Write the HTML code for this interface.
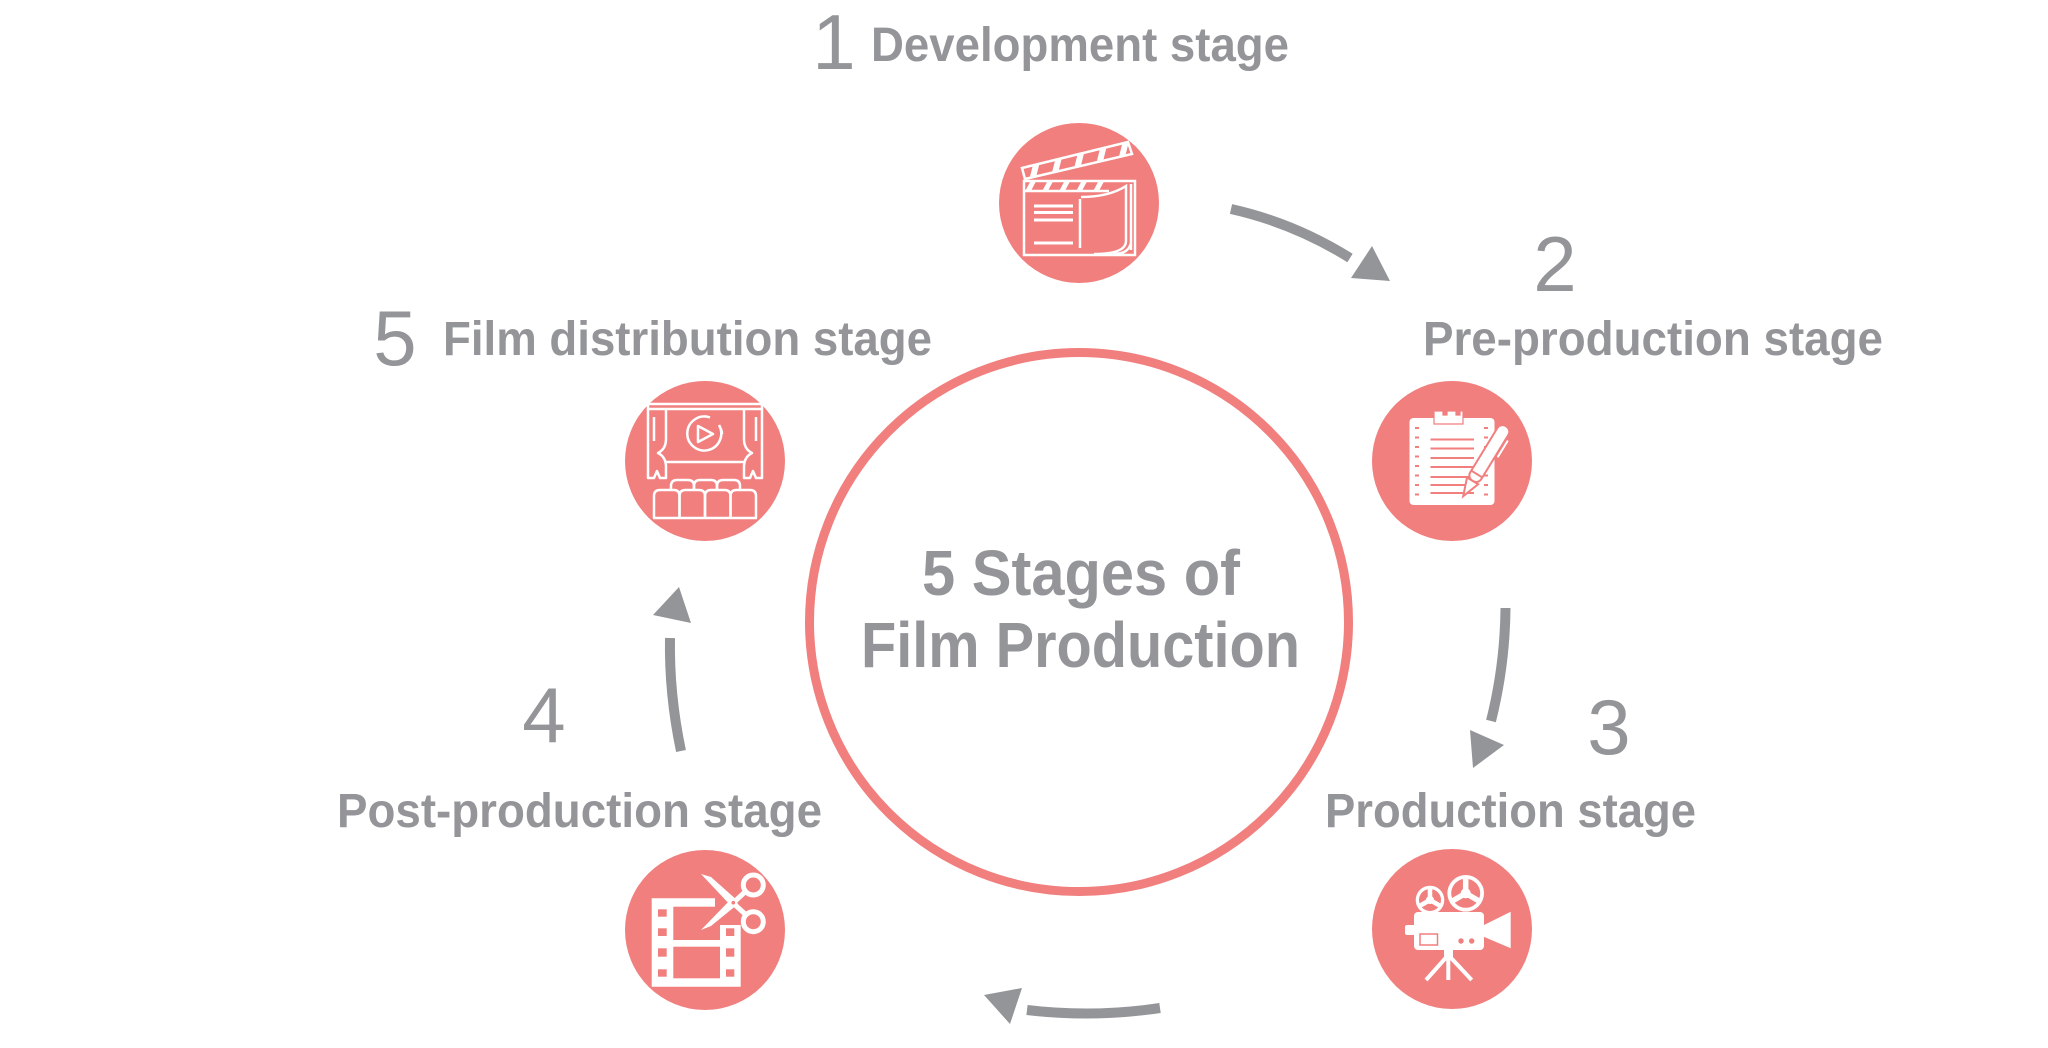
<!DOCTYPE html>
<html><head><meta charset="utf-8"><style>
html,body{margin:0;padding:0;background:#fff;}
svg{display:block;}
text{font-family:"Liberation Sans",sans-serif;fill:#939598;}
</style></head><body>
<svg width="2048" height="1048" viewBox="0 0 2048 1048" xmlns="http://www.w3.org/2000/svg">
<rect width="2048" height="1048" fill="#fff"/>
<defs>
<clipPath id="stick"><polygon points="-57,-35 49,-61 53,-49 -54,-24"/></clipPath>
<clipPath id="band"><rect x="-55" y="-22" width="111" height="10"/></clipPath>
</defs>

<!-- big circle -->
<circle cx="1079" cy="622" r="269.5" fill="none" stroke="#F07F7E" stroke-width="9"/>
<text x="922" y="595" font-size="64" font-weight="bold" textLength="318" lengthAdjust="spacingAndGlyphs">5 Stages of</text>
<text x="861" y="667" font-size="64" font-weight="bold" textLength="439" lengthAdjust="spacingAndGlyphs">Film Production</text>

<!-- digits -->
<text x="834" y="69" font-size="78" text-anchor="middle">1</text>
<text x="1555" y="291" font-size="78" text-anchor="middle">2</text>
<text x="1609" y="754" font-size="78" text-anchor="middle">3</text>
<text x="544" y="742" font-size="78" text-anchor="middle">4</text>
<text x="395" y="365" font-size="78" text-anchor="middle">5</text>

<!-- labels -->
<text x="871" y="61" font-size="48" font-weight="bold" textLength="418" lengthAdjust="spacingAndGlyphs">Development stage</text>
<text x="1423" y="355" font-size="48" font-weight="bold" textLength="460" lengthAdjust="spacingAndGlyphs">Pre-production stage</text>
<text x="1325" y="827" font-size="48" font-weight="bold" textLength="371" lengthAdjust="spacingAndGlyphs">Production stage</text>
<text x="337" y="827" font-size="48" font-weight="bold" textLength="485" lengthAdjust="spacingAndGlyphs">Post-production stage</text>
<text x="443" y="355" font-size="48" font-weight="bold" textLength="489" lengthAdjust="spacingAndGlyphs">Film distribution stage</text>

<!-- arrows -->
<g fill="none" stroke="#939598" stroke-width="10">
<path d="M1231,209 Q1294,223 1350,258"/>
<path d="M1505.5,608 Q1505,665 1491,721"/>
<path d="M1160,1008 Q1093,1018 1027,1010"/>
<path d="M681,751 Q669,694 670,638"/>
</g>
<g fill="#939598">
<polygon points="1351,278 1372,246 1390,281"/>
<polygon points="1470,730 1504,745 1473,768"/>
<polygon points="984,995 1022,988 1010,1024"/>
<polygon points="653,615 679,587 691,623"/>
</g>

<!-- stage circles -->
<g fill="#F07F7E">
<circle cx="1079" cy="203" r="80"/>
<circle cx="1452" cy="461" r="80"/>
<circle cx="1452" cy="929" r="80"/>
<circle cx="705" cy="930" r="80"/>
<circle cx="705" cy="461" r="80"/>
</g>

<!-- icon 1: clapperboard -->
<g transform="translate(1079,203)">
 <g clip-path="url(#stick)" stroke="#fff" stroke-width="6">
  <line x1="-48" y1="-18" x2="-36" y2="-66"/>
  <line x1="-27" y1="-18" x2="-15" y2="-66"/>
  <line x1="-6" y1="-18" x2="6" y2="-66"/>
  <line x1="15" y1="-18" x2="27" y2="-66"/>
  <line x1="36" y1="-18" x2="48" y2="-66"/>
 </g>
 <polygon points="-57,-35 49,-61 53,-49 -54,-24" fill="none" stroke="#fff" stroke-width="2.5"/>
 <g clip-path="url(#band)" stroke="#fff" stroke-width="5">
  <line x1="-52" y1="-10" x2="-44" y2="-25"/>
  <line x1="-35" y1="-10" x2="-27" y2="-25"/>
  <line x1="-18" y1="-10" x2="-10" y2="-25"/>
  <line x1="-1" y1="-10" x2="7" y2="-25"/>
  <line x1="16" y1="-10" x2="24" y2="-25"/>
 </g>
 <g fill="none" stroke="#fff" stroke-width="2.5">
  <rect x="-55" y="-22" width="111" height="74"/>
  <line x1="-55" y1="-12" x2="30" y2="-12"/>
  <line x1="1" y1="-4" x2="1" y2="45"/>
  <path d="M2,-6 C20,-6 36,-10 47,-17 L47,38 C47,47 36,51 15,51"/>
  <line x1="52" y1="-19" x2="52" y2="47"/>
  <path d="M52,40 C50,48 44,51 34,51"/>
 </g>
 <g fill="#fff">
  <rect x="-45" y="1.5" width="39" height="3"/>
  <rect x="-45" y="8" width="39" height="3"/>
  <rect x="-45" y="15.5" width="39" height="3"/>
  <rect x="-45" y="38.5" width="39" height="3"/>
 </g>
</g>

<!-- icon 2: notebook + pen -->
<g transform="translate(1452,461)">
 <rect x="-42.5" y="-43" width="85" height="87" rx="4" fill="#fff"/>
 <path d="M-18,-50 h9 v4 h4 v-4 h9 v4 h4 v-4 h3 v13 h-29z" fill="#fff" stroke="#F07F7E" stroke-width="1.2"/>
 <g fill="#F07F7E">
  <rect x="-21.5" y="-22.5" width="43.5" height="2"/>
  <rect x="-21.5" y="-13.5" width="43.5" height="2"/>
  <rect x="-21.5" y="-4" width="43.5" height="2"/>
  <rect x="-21.5" y="5" width="43.5" height="2"/>
  <rect x="-21.5" y="15" width="43.5" height="2"/>
  <rect x="-21.5" y="23" width="43.5" height="2"/>
  <rect x="-21.5" y="31" width="43.5" height="2"/>
  <rect x="-37" y="-34" width="4" height="2"/><rect x="-37" y="-24.5" width="4" height="2"/>
  <rect x="-37" y="-15" width="4" height="2"/><rect x="-37" y="-5.5" width="4" height="2"/>
  <rect x="-37" y="4" width="4" height="2"/><rect x="-37" y="13.5" width="4" height="2"/>
  <rect x="-37" y="23" width="4" height="2"/><rect x="-37" y="32.5" width="4" height="2"/>
  <rect x="32" y="-34" width="4" height="2"/><rect x="32" y="-24.5" width="4" height="2"/>
  <rect x="32" y="-15" width="4" height="2"/><rect x="32" y="-5.5" width="4" height="2"/>
  <rect x="32" y="4" width="4" height="2"/><rect x="32" y="13.5" width="4" height="2"/>
  <rect x="32" y="23" width="4" height="2"/><rect x="32" y="32.5" width="4" height="2"/>
 </g>
 <g transform="translate(53,-33) rotate(121.5)" stroke="#F07F7E" stroke-width="2" fill="#fff">
  <rect x="8" y="-11" width="22" height="4" rx="2"/>
  <rect x="-2" y="-6.5" width="64" height="13" rx="6"/>
  <polygon points="62,-6.5 80,0 62,6.5"/>
  <line x1="54" y1="-6.5" x2="54" y2="6.5"/>
 </g>
</g>

<!-- icon 3: movie camera -->
<g transform="translate(1452,929)">
 <g fill="#fff">
  <circle cx="-22" cy="-29" r="14.3"/>
  <circle cx="13.7" cy="-35.7" r="18.3"/>
 </g>
 <g fill="#F07F7E">
  <circle cx="-22" cy="-29" r="11"/>
  <circle cx="13.7" cy="-35.7" r="14.5"/>
 </g>
 <g stroke="#fff" stroke-width="4.5">
  <line x1="-22" y1="-29" x2="-22" y2="-41"/>
  <line x1="-22" y1="-29" x2="-32.4" y2="-23"/>
  <line x1="-22" y1="-29" x2="-11.6" y2="-23"/>
 </g>
 <g stroke="#fff" stroke-width="5.5">
  <line x1="13.7" y1="-35.7" x2="13.7" y2="-51"/>
  <line x1="13.7" y1="-35.7" x2="0.4" y2="-28"/>
  <line x1="13.7" y1="-35.7" x2="27" y2="-28"/>
 </g>
 <g fill="#fff">
  <circle cx="-22" cy="-29" r="4"/>
  <circle cx="13.7" cy="-35.7" r="5"/>
  <rect x="-38" y="-17" width="70" height="38" rx="4"/>
  <rect x="-47" y="-4" width="11" height="10" rx="2"/>
  <polygon points="30,-3 58.7,-17.3 58.7,19.3 30,7"/>
  <rect x="-8" y="19" width="9" height="9"/>
 </g>
 <rect x="-32" y="5" width="17.5" height="11" fill="none" stroke="#F07F7E" stroke-width="1.5"/>
 <circle cx="9" cy="12" r="2.7" fill="#F07F7E"/>
 <circle cx="19.7" cy="12" r="2.7" fill="#F07F7E"/>
 <g stroke="#fff" stroke-width="4">
  <line x1="-3.7" y1="26" x2="-26" y2="51"/>
  <line x1="-3.7" y1="26" x2="-3.7" y2="51"/>
  <line x1="-3.7" y1="26" x2="19.7" y2="51"/>
 </g>
</g>

<!-- icon 4: film + scissors -->
<g transform="translate(705,930)">
 <path d="M-53.3,-31.7 H10 V-5 H35.7 V56.7 H-53.3 Z" fill="#fff"/>
 <g fill="#F07F7E">
  <rect x="-47" y="-20.7" width="8.7" height="7.4"/>
  <rect x="-47" y="-1.7" width="8.7" height="7.7"/>
  <rect x="-47" y="18.3" width="8.7" height="8.4"/>
  <rect x="-47" y="39.3" width="8.7" height="7.4"/>
  <rect x="21" y="-1.7" width="8.3" height="7.7"/>
  <rect x="21" y="18.3" width="8.3" height="8.4"/>
  <rect x="21" y="39.3" width="8.3" height="7.4"/>
  <rect x="-31.7" y="-23.3" width="46.7" height="33.3"/>
  <rect x="-31.7" y="16.7" width="46.7" height="31.6"/>
 </g>
 <g fill="#fff">
  <polygon points="-4,-56 6,-53 33,-29 28,-22"/>
  <polygon points="-4,0 6,-4 33,-26 28,-33"/>
 </g>
 <g stroke="#fff" stroke-width="5" fill="#F07F7E">
  <line x1="28" y1="-27" x2="40" y2="-38" />
  <line x1="28" y1="-27" x2="40" y2="-16" />
  <circle cx="48.3" cy="-45" r="10"/>
  <circle cx="48.3" cy="-8.3" r="10"/>
 </g>
 <circle cx="28.3" cy="-27.3" r="1.8" fill="#F07F7E"/>
</g>

<!-- icon 5: theater -->
<g transform="translate(705,461)" fill="none" stroke="#fff" stroke-width="2.5" stroke-linejoin="round">
 <rect x="-57" y="-57" width="114" height="5"/>
 <path d="M-57,-52 V17 H-51 L-48,10 -45,17 H-39 V6 Q-39,-4 -47,-8 Q-39,-12 -39,-22 V-52"/>
 <path d="M57,-52 V17 H51 L48,10 45,17 H39 V6 Q39,-4 47,-8 Q39,-12 39,-22 V-52"/>
 <line x1="-51" y1="-44" x2="-51" y2="-20"/>
 <line x1="51" y1="-44" x2="51" y2="-20"/>
 <line x1="-39" y1="1" x2="39" y2="1"/>
 <path d="M14,-36 A17,17 0 1 1 5,-43.5"/>
 <path d="M16,-32 A17,17 0 0 1 17,-27"/>
 <path d="M-7,-35 L8,-27 L-7,-19 Z"/>
 <path d="M-34,29 V25 Q-34,19 -28,19 H-17 Q-11,19 -11,25 V29"/>
 <path d="M-11,29 V25 Q-11,19 -5,19 H6 Q12,19 12,25 V29"/>
 <path d="M12,29 V25 Q12,19 18,19 H29 Q35,19 35,25 V29"/>
 <path d="M-51,57 V35 Q-51,29 -45,29 H-31 Q-25.5,29 -25.5,35 V57"/>
 <path d="M-25.5,57 V35 Q-25.5,29 -19.5,29 H-6 Q0,29 0,35 V57"/>
 <path d="M0,57 V35 Q0,29 6,29 H19.5 Q25.5,29 25.5,35 V57"/>
 <path d="M25.5,57 V35 Q25.5,29 31.5,29 H45 Q51,29 51,35 V57"/>
 <line x1="-52" y1="57" x2="52" y2="57"/>
</g>
</svg>
</body></html>
